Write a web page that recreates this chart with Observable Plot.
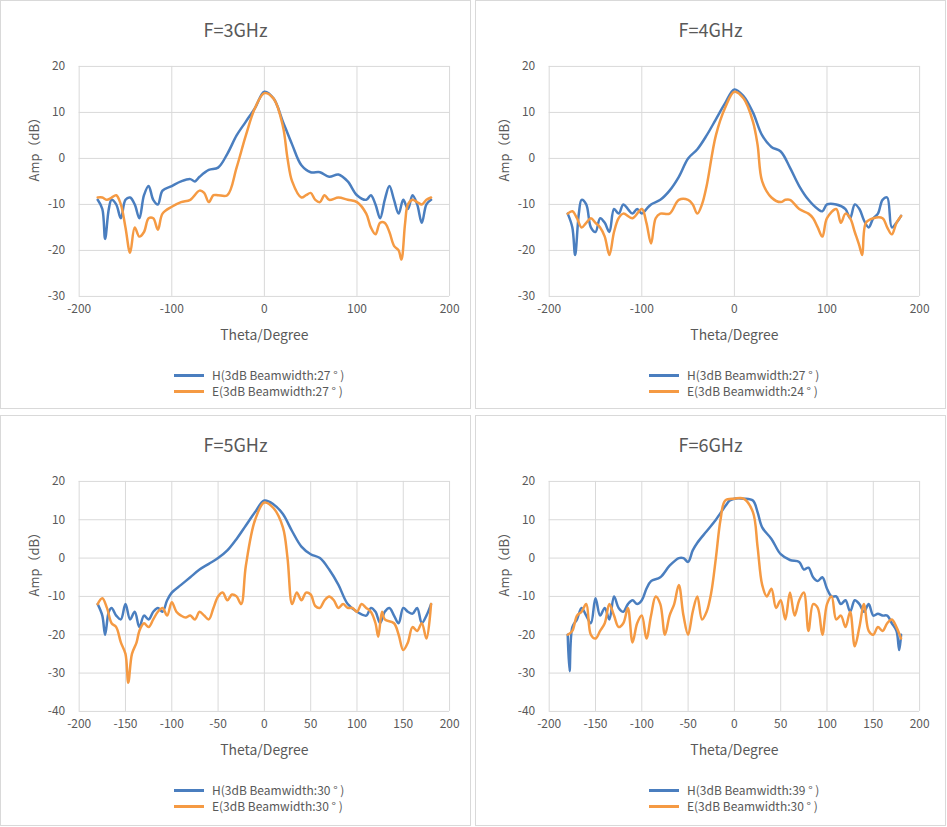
<!DOCTYPE html>
<html><head><meta charset="utf-8">
<script src="https://cdn.jsdelivr.net/npm/d3@7"></script>
<script src="https://cdn.jsdelivr.net/npm/@observablehq/plot@0.6"></script>
<style>
body{margin:0;background:#fff;font-family:"Noto Sans CJK SC","Noto Sans",sans-serif;}
.panel{position:absolute;border:1px solid #d9d9d9;box-sizing:border-box;background:#fff;}
.title{position:absolute;left:0;width:100%;text-align:center;font-size:18px;color:#595959;}
.plot{position:absolute;left:0;}
.legend{position:absolute;left:173px;font-size:12px;color:#595959;line-height:16px;}
.legend div{display:flex;align-items:center;}
.legend span.sw{display:inline-block;width:30px;height:3px;margin-right:8px;}
</style></head><body>
<script>
const titles = ["F=3GHz","F=4GHz","F=5GHz","F=6GHz"];
const hLabels = ["H(3dB Beamwidth:27 ° )","H(3dB Beamwidth:27 ° )","H(3dB Beamwidth:30 ° )","H(3dB Beamwidth:39 ° )"];
const eLabels = ["E(3dB Beamwidth:27 ° )","E(3dB Beamwidth:24 ° )","E(3dB Beamwidth:30 ° )","E(3dB Beamwidth:30 ° )"];
const h3 = [[-180,-9],[-175,-11],[-172,-17.5],[-168,-11],[-165,-9],[-160,-10],[-155,-13],[-150,-9],[-145,-8.5],[-140,-10],[-135,-13],[-130,-8],[-125,-6],[-120,-9],[-115,-10],[-110,-7],[-100,-6],[-90,-5],[-80,-4.5],[-75,-5],[-70,-4],[-60,-2.5],[-50,-2],[-40,1],[-30,5],[-20,8],[-10,11],[0,14.5],[10,13],[20,8],[30,3],[40,-1.5],[50,-3],[60,-3],[70,-4],[80,-3.5],[90,-5],[100,-8],[110,-9],[115,-8],[120,-10],[125,-13],[130,-9],[135,-6],[140,-9],[145,-12],[150,-9],[155,-11],[160,-8],[165,-10],[170,-14],[175,-10],[180,-9]];
const e3 = [[-180,-8.5],[-175,-8.5],[-170,-9],[-165,-8.5],[-160,-8],[-155,-10],[-150,-15],[-145,-20.5],[-140,-15],[-135,-17],[-130,-16],[-125,-13],[-120,-13],[-115,-15.5],[-110,-12],[-100,-10.5],[-90,-9.5],[-80,-9],[-70,-7],[-65,-7.5],[-60,-9.5],[-55,-8],[-50,-8],[-40,-8],[-30,-2],[-20,5],[-10,11],[0,14.2],[10,13],[20,7],[25,0],[30,-5],[40,-8.5],[45,-8],[50,-7.5],[55,-9],[60,-9.5],[65,-8],[70,-9],[80,-8.5],[90,-9],[100,-9.5],[110,-12],[115,-15],[120,-16.5],[125,-14],[130,-14],[135,-16],[140,-19],[145,-20],[148,-22],[152,-14],[155,-10],[160,-9],[165,-9.5],[170,-10],[175,-9],[180,-8.5]];
const h4 = [[-180,-12],[-175,-15],[-172,-21],[-168,-12],[-165,-9],[-160,-10],[-155,-15],[-150,-16],[-145,-13],[-140,-14],[-135,-16],[-130,-11],[-125,-12],[-120,-10],[-115,-11],[-110,-12],[-105,-11],[-100,-12],[-95,-11],[-90,-10],[-80,-9],[-70,-7],[-60,-4],[-50,0],[-40,2],[-30,5],[-20,8.5],[-10,12],[0,15],[10,13.5],[20,10],[30,5],[40,2.5],[50,1.5],[60,-2],[70,-6],[80,-9],[90,-11],[95,-11.5],[100,-10],[110,-10],[120,-11],[125,-13],[130,-10],[135,-11],[140,-13.5],[145,-15],[150,-13],[155,-12],[160,-9],[165,-8.5],[170,-15],[175,-14],[180,-12.5]];
const e4 = [[-180,-12],[-175,-11.5],[-170,-13],[-165,-15],[-160,-14],[-155,-13],[-150,-14],[-145,-15],[-140,-17],[-135,-21],[-130,-16],[-125,-13],[-120,-12],[-110,-13],[-100,-11],[-95,-14],[-90,-18.5],[-85,-13],[-80,-12],[-70,-12],[-60,-9],[-50,-9],[-45,-10],[-40,-12],[-35,-10],[-30,-6],[-20,5],[-10,11],[0,14.5],[10,13],[20,8],[25,3],[30,-5],[40,-8.5],[50,-9.5],[55,-9],[60,-9],[70,-11],[80,-12],[85,-13],[90,-15],[95,-17],[100,-13],[110,-11],[115,-14],[120,-12],[125,-13],[130,-16],[135,-19],[138,-21],[142,-14],[150,-13],[160,-13],[165,-15],[170,-16.5],[175,-14],[180,-12.5]];
const h5 = [[-180,-12],[-175,-15],[-172,-20],[-168,-14],[-165,-13],[-160,-15],[-155,-16],[-150,-12],[-145,-16],[-140,-14],[-135,-18],[-130,-15],[-125,-16],[-120,-14],[-115,-13],[-110,-14],[-105,-11],[-100,-9],[-90,-7],[-80,-5],[-70,-3],[-60,-1.5],[-50,0],[-40,2],[-30,5],[-20,8.5],[-10,12],[0,15],[10,14],[20,11.5],[30,7],[40,3],[50,1],[60,0],[70,-3],[80,-7],[90,-12],[100,-14],[110,-15],[115,-13],[120,-14],[125,-17],[130,-14],[135,-13],[140,-15],[145,-17],[150,-13],[155,-14],[160,-14.5],[165,-13],[170,-17],[175,-15],[180,-12]];
const e5 = [[-180,-12],[-175,-10.5],[-170,-13],[-165,-17],[-160,-18],[-155,-22],[-150,-25],[-147,-32.5],[-143,-25],[-138,-22],[-135,-19],[-130,-17],[-125,-18],[-120,-16],[-115,-14],[-110,-13],[-105,-15],[-100,-11.5],[-95,-14],[-90,-15],[-85,-15.5],[-80,-15],[-75,-16],[-70,-14],[-65,-15],[-60,-16],[-55,-13],[-50,-10],[-45,-9],[-40,-11],[-35,-9.5],[-30,-10],[-25,-12],[-20,-2],[-10,10],[0,14.5],[10,13],[20,8],[25,0],[30,-12],[35,-9],[40,-11],[45,-9],[50,-9.5],[55,-12.5],[60,-13],[65,-11],[70,-10],[75,-11],[80,-13],[85,-12],[90,-13],[95,-13],[100,-14],[105,-12],[110,-13],[115,-14],[120,-17],[123,-20.5],[127,-14],[130,-16],[140,-17],[145,-20],[150,-24],[155,-22],[160,-18],[165,-19],[170,-17],[175,-21],[180,-12]];
const h6 = [[-180,-20],[-178,-29.5],[-175,-18],[-170,-16],[-165,-13],[-160,-15],[-155,-17],[-150,-10.5],[-145,-15],[-140,-13],[-135,-16],[-130,-10],[-125,-13],[-120,-14],[-115,-12],[-110,-11],[-105,-12],[-100,-11],[-95,-8],[-90,-6],[-80,-5],[-70,-2],[-60,0],[-55,0],[-50,-1],[-45,2],[-40,4],[-30,7],[-20,10],[-10,13.5],[-5,15],[0,15.5],[10,15.5],[20,15],[25,12],[30,8],[40,5],[50,1],[60,-0.5],[70,-1],[75,-3],[80,-2.5],[85,-5],[90,-6],[95,-5],[100,-8],[105,-10],[110,-10],[115,-12],[120,-11],[125,-14],[130,-11],[135,-12],[140,-14],[145,-12],[150,-15],[155,-14.5],[160,-15],[165,-15],[170,-17],[175,-19],[178,-24],[180,-20]];
const e6 = [[-180,-20],[-175,-19],[-170,-15],[-165,-14],[-160,-12],[-155,-20],[-150,-21],[-145,-19],[-140,-17],[-135,-12],[-130,-15],[-125,-18],[-120,-17],[-115,-13],[-110,-22],[-105,-17],[-100,-15],[-95,-21],[-90,-15],[-85,-10],[-80,-12],[-75,-20],[-70,-15],[-65,-12],[-60,-7],[-55,-15],[-50,-20],[-45,-14],[-40,-10],[-35,-16],[-30,-14],[-25,-9],[-20,0],[-15,10],[-10,15],[0,15.5],[10,15.5],[20,12],[25,3],[30,-7],[35,-10],[40,-8],[45,-13],[50,-11],[55,-16],[60,-9],[65,-15],[70,-11],[75,-9],[80,-19],[85,-12],[90,-13],[95,-20],[100,-12],[105,-10],[110,-16],[115,-15],[120,-18],[125,-14],[130,-23],[135,-18],[140,-12],[145,-19],[150,-20],[155,-18],[160,-19],[165,-17],[170,-16],[175,-18],[180,-21]];
const xTicks3 = [-200,-100,0,100,200];
const xTicks5 = [-200,-150,-100,-50,0,50,100,150,200];
const yTicks3 = [-30,-20,-10,0,10,20];
const yTicks5 = [-40,-30,-20,-10,0,10,20];

const panels = [
  {left:0,top:0,w:471,hgt:409,H:h3,E:e3,xt:xTicks3,yt:yTicks3,ml:78},
  {left:475,top:0,w:471,hgt:409,H:h4,E:e4,xt:xTicks3,yt:yTicks3,ml:73},
  {left:0,top:415,w:471,hgt:411,H:h5,E:e5,xt:xTicks5,yt:yTicks5,ml:78},
  {left:475,top:415,w:471,hgt:411,H:h6,E:e6,xt:xTicks5,yt:yTicks5,ml:73}
];
const BLUE="#4a7ebf", ORANGE="#f59a43";
const fmt = d => String(d);
panels.forEach((p,i)=>{
  const div=document.createElement("div");
  div.className="panel";
  Object.assign(div.style,{left:p.left+"px",top:p.top+"px",width:p.w+"px",height:p.hgt+"px"});
  document.body.appendChild(div);
  const t=document.createElement("div");t.className="title";t.style.top="15px";t.textContent=titles[i];div.appendChild(t);
  const yd=[p.yt[0],p.yt[p.yt.length-1]];
  const plot=Plot.plot({
    width:p.w, height:302, marginTop:20, marginBottom:51, marginLeft:p.ml, marginRight:p.w-p.ml-372,
    style:{fontFamily:"Noto Sans CJK SC, Noto Sans, sans-serif",fontSize:"12px",color:"#595959"},
    x:{domain:[-200,200],label:null},
    y:{domain:yd,label:null},
    marks:[
      Plot.gridX(p.xt,{stroke:"#d9d9d9",strokeOpacity:1}),
      Plot.gridY(p.yt,{stroke:"#d9d9d9",strokeOpacity:1}),
      Plot.axisX({ticks:p.xt,tickSize:0,tickPadding:8,fontSize:12,tickFormat:fmt}),
      Plot.axisY({ticks:p.yt,tickSize:0,tickPadding:14,fontSize:12,tickFormat:fmt}),
      Plot.line(p.H,{x:d=>d[0],y:d=>d[1],stroke:BLUE,strokeWidth:2.5,curve:"catmull-rom"}),
      Plot.line(p.E,{x:d=>d[0],y:d=>d[1],stroke:ORANGE,strokeWidth:2.5,curve:"catmull-rom"}),
      Plot.text(["Theta/Degree"],{frameAnchor:"bottom",dy:44,fontSize:14,fill:"#595959"}),
      Plot.text(["Amp（dB）"],{frameAnchor:"left",dx:-45,rotate:-90,fontSize:13,fill:"#595959"})
    ]
  });
  plot.classList.add("plot");plot.style.top="45px";
  div.appendChild(plot);
  const lg=document.createElement("div");lg.className="legend";lg.style.top="366px";
  lg.innerHTML=`<div><span class="sw" style="background:${BLUE}"></span>${hLabels[i]}</div><div><span class="sw" style="background:${ORANGE}"></span>${eLabels[i]}</div>`;
  div.appendChild(lg);
});
</script>
</body></html>
